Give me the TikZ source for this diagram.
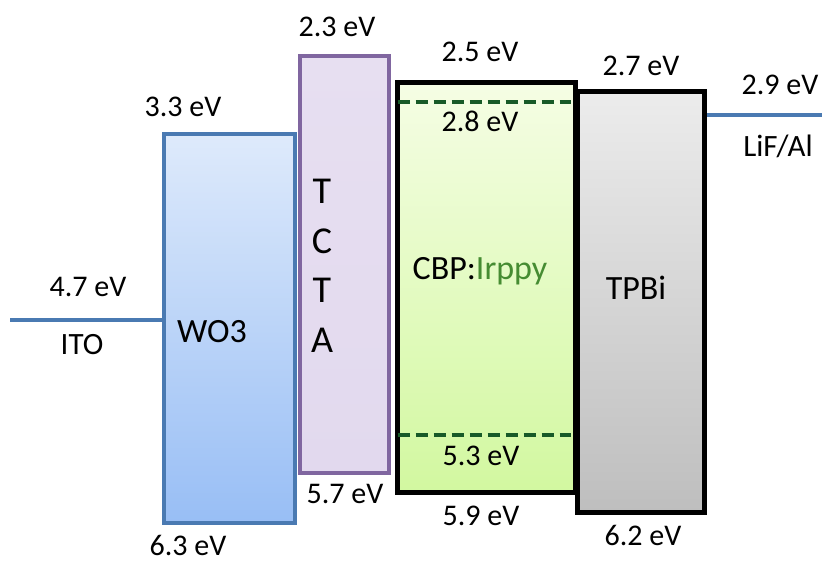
\documentclass[tikz,border=0pt]{standalone}
\usepackage{fontspec}
\setmainfont{Carlito}
\definecolor{wolines}{RGB}{74,122,178}
\definecolor{wotop}{RGB}{222,234,251}
\definecolor{wobot}{RGB}{152,190,245}
\definecolor{tcline}{RGB}{128,102,160}
\definecolor{tctop}{RGB}{231,223,241}
\definecolor{tcbot}{RGB}{226,217,238}
\definecolor{cbtop}{RGB}{245,253,228}
\definecolor{cbbot}{RGB}{210,248,160}
\definecolor{tptop}{RGB}{236,236,236}
\definecolor{tpbot}{RGB}{190,190,190}
\definecolor{dopant}{RGB}{24,90,40}
\definecolor{irtext}{RGB}{70,140,50}
\tikzset{
  layerbox/.style={anchor=north west, inner sep=0pt, line width=#1},
  evlabel/.style={anchor=base, inner sep=0pt, font=\fontsize{30}{36}\selectfont},
  biglabel/.style={anchor=base, inner sep=0pt, font=\fontsize{34}{40}\selectfont},
  electrode/.style={draw=wolines, line width=4pt},
  dopantline/.style={draw=dopant, line width=4pt, dash pattern=on 12pt off 6pt},
}
\begin{document}
\begin{tikzpicture}[x=1pt,y=-1pt]
\useasboundingbox (0,0) rectangle (822,561);
% layers
\node[layerbox=4pt, draw=wolines, top color=wotop, bottom color=wobot,
      minimum width=131pt, minimum height=389pt] (wo3) at (162,132) {};
\node[layerbox=4pt, draw=tcline, top color=tctop, bottom color=tcbot,
      minimum width=89pt, minimum height=417pt] (tcta) at (298,54) {};
\node[layerbox=5pt, draw=black, top color=tptop, bottom color=tpbot,
      minimum width=127pt, minimum height=421pt] (tpbi) at (575,89) {};
\node[layerbox=5pt, draw=black, top color=cbtop, bottom color=cbbot,
      minimum width=178pt, minimum height=409pt] (cbp) at (395,80.5) {};
% dopant levels
\coordinate (dl1) at (397.5,102);
\coordinate (dr1) at (571,102);
\coordinate (dl2) at (397.5,435);
\coordinate (dr2) at (571,435);
\draw[dopantline] (dl1) -- (dr1);
\draw[dopantline] (dl2) -- (dr2);
% electrodes
\coordinate (itoend) at (10,320);
\draw[electrode] (itoend) -- (itoend -| wo3.west);
\coordinate (lifend) at (822,115);
\draw[electrode] (lifend -| tpbi.east) -- (lifend);
% labels
\node[evlabel] (l47) at (88,297) {4.7 eV};
\node[evlabel, font=\fontsize{31}{36}\selectfont] (lito) at (82,355) {ITO};
\node[evlabel] (l33) at (183,117) {3.3 eV};
\node[evlabel] (l63) at (188,555) {6.3 eV};
\node[biglabel] (lwo3) at (212,342) {WO3};
\node[evlabel] (l23) at (337,37) {2.3 eV};
\node[evlabel] (l57) at (345,503) {5.7 eV};
\node[align=center, inner sep=0pt, font=\fontsize{38}{49.5}\selectfont] (ltcta) at (322,266) {T\\C\\T\\A};
\node[evlabel] (l25) at (480,62) {2.5 eV};
\node[evlabel] (l28) at (480,132) {2.8 eV};
\node[biglabel] (lcbp) at (480,280) {CBP:\textcolor{irtext}{Irppy}};
\node[evlabel] (l53) at (481,465) {5.3 eV};
\node[evlabel] (l59) at (481,525) {5.9 eV};
\node[evlabel] (l27) at (641,76) {2.7 eV};
\node[biglabel] (ltpbi) at (636,300) {TPBi};
\node[evlabel] (l62) at (643,545) {6.2 eV};
\node[evlabel] (l29) at (780,95) {2.9 eV};
\node[evlabel, font=\fontsize{31}{36}\selectfont] (llif) at (778,157) {LiF/Al};
\end{tikzpicture}
\end{document}
